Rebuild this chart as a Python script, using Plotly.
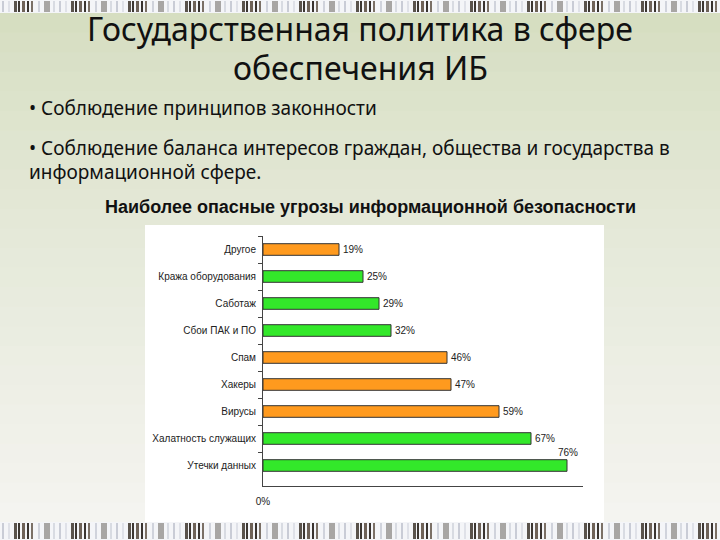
import plotly.graph_objects as go

# data (top to bottom)
threats = ["Другое", "Кража оборудования", "Саботаж", "Сбои ПАК и ПО", "Спам",
           "Хакеры", "Вирусы", "Халатность служащих", "Утечки данных"]
shares = [19, 25, 29, 32, 46, 47, 59, 67, 76]
kind = ["o", "g", "g", "g", "o", "o", "o", "g", "g"]

W, H = 720, 540
ORANGE, GREEN = "#ff9a1e", "#33e82a"


def px(x):
    return x / W


def py(y):
    return 1 - y / H


def rect(x0, x1, y0, y1, color, layer="below"):
    # pixel box (top-left origin) -> paper shape
    return dict(type="rect", xref="paper", yref="paper", layer=layer,
                x0=px(x0), x1=px(x1), y0=py(y1), y1=py(y0),
                fillcolor=color, line=dict(width=0))


shapes = []

# background: green-grey fading to near white downwards
n_bands = 26
top_c = (214, 222, 193)
bot_c = (244, 244, 240)
step = 509 / n_bands
for i in range(n_bands):
    t = i / (n_bands - 1)
    c = tuple(int(top_c[k] + (bot_c[k] - top_c[k]) * t ** 0.8) for k in range(3))
    shapes.append(rect(0, W, 13 + i * step, 13 + (i + 1) * step + 1, "rgb(%d,%d,%d)" % c))

# barcode strips top and bottom
strip_unit = [(2, 2, "#c9ccd6"), (8, 2, "#dfe1e8"), (14, 3, "#5a534c"), (18, 2, "#3d3732"),
              (22, 3, "#6e6258"), (27, 2, "#3a3430"), (31, 2, "#7b7066"), (38, 2, "#d0d3dc"),
              (44, 6, "#a8a6a4"), (53, 2, "#d8dbe2")]
for top, bottom in [(0, 13), (522, 540)]:
    shapes.append(rect(0, W, top, bottom, "#f4f5f8"))
    for x in range(0, W, 57):
        for off, wd, col in strip_unit:
            if x + off < W:
                shapes.append(rect(x + off, min(x + off + wd, W), top + 1, bottom - 1, col))

# white chart box
shapes.append(rect(145, 604, 225, 522, "white"))

fig = go.Figure()
fig.add_trace(go.Bar(
    x=shares, y=threats, orientation="h",
    marker=dict(color=[ORANGE if k == "o" else GREEN for k in kind],
                line=dict(color="#333333", width=1)),
    width=0.43, hoverinfo="x+y", showlegend=False,
))

annotations = []
for i, (t, v) in enumerate(zip(threats, shares)):
    last = i == len(threats) - 1
    annotations.append(dict(
        x=v, y=t, xref="x", yref="y", text="%d%%" % v, showarrow=False,
        xanchor="center" if last else "left", yanchor="middle",
        xshift=1 if last else 2, yshift=13 if last else 0,
        font=dict(family="Liberation Sans, Arial", size=10, color="#222222"),
    ))

TITLE_FONT = "Noto Sans, Open Sans, sans-serif"


def note(text, x, y, size, xanchor="center", family=TITLE_FONT):
    return dict(text=text, x=x, y=y, xref="paper", yref="paper", showarrow=False,
                xanchor=xanchor, yanchor="middle",
                font=dict(family=family, size=size, color="#111111"))


annotations += [
    note("Государственная политика в сфере", 0.5, py(29), 32),
    note("обеспечения ИБ", 0.5, py(67), 32),
    note("• Соблюдение принципов законности", px(27), py(108), 19, "left"),
    note("• Соблюдение баланса интересов граждан, общества и государства в",
         px(27), py(148), 19, "left"),
    note("информационной сфере.", px(27), py(172), 19, "left"),
    note("<b>Наиболее опасные угрозы информационной безопасности</b>",
         px(371), py(207), 18, family="Liberation Sans, Arial"),
]

fig.update_layout(
    width=W, height=H,
    margin=dict(l=0, r=0, t=0, b=0, autoexpand=False),
    paper_bgcolor="#eeeee8", plot_bgcolor="white",
    shapes=shapes, annotations=annotations,
    xaxis=dict(domain=[px(263), px(583)], range=[0, 80], showgrid=False, zeroline=False,
               showline=True, linecolor="#444444", linewidth=1,
               tickvals=[0], ticktext=["0%"], ticks="", ticklabelstandoff=6,
               automargin=False,
               tickfont=dict(family="Liberation Sans, Arial", size=10, color="#222222")),
    yaxis=dict(domain=[py(486), py(236)], autorange="reversed", type="category",
               showline=True, linecolor="#444444", linewidth=1, showgrid=False,
               ticks="outside", tickson="boundaries", ticklen=4, tickcolor="#444444",
               ticklabelstandoff=4, automargin=False,
               tickfont=dict(family="Liberation Sans, Arial", size=10, color="#222222")),
)

fig.write_html("out.html", config={"displayModeBar": False},
               post_script="document.body.style.margin='0';document.body.style.overflow='hidden';")
